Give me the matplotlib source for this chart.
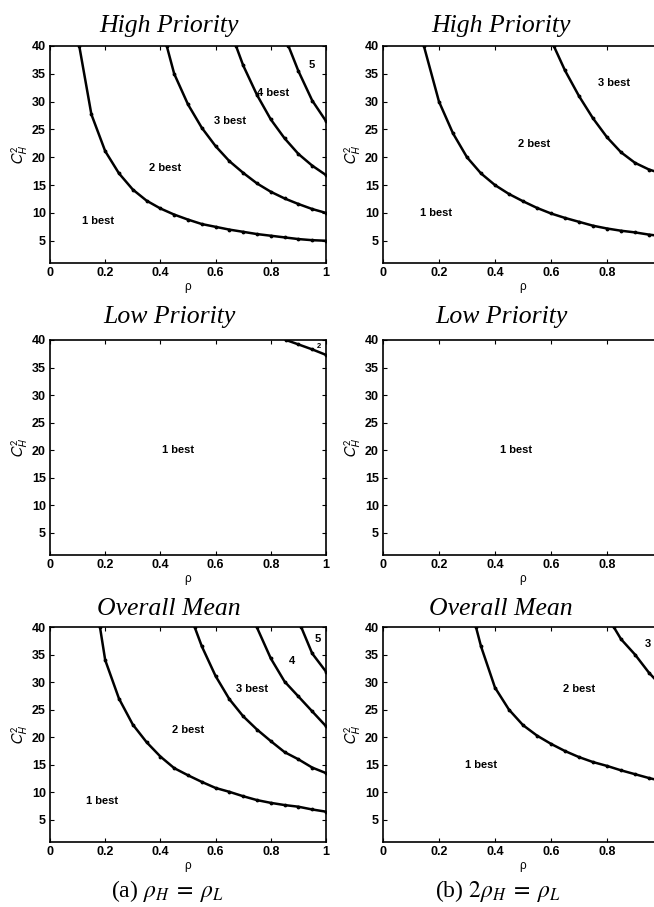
import matplotlib.pyplot as plt
import numpy as np

plt.rcParams['font.family'] = ['Liberation Sans', 'DejaVu Sans']
plt.rcParams['mathtext.fontset'] = 'stix'

# ---- boundary curves (rho, C_H^2) ----
# (a) rho_H = rho_L, high priority
hp_a_rho1 = [0.106, 0.15, 0.2, 0.25, 0.3, 0.35, 0.4, 0.45, 0.5, 0.55, 0.6, 0.65, 0.7, 0.75, 0.8, 0.85, 0.9, 0.95, 1.0]
hp_a_c1 = [40, 27.7, 21.1, 17.1, 14.2, 12.2, 10.8, 9.7, 8.8, 8.0, 7.5, 7.0, 6.6, 6.2, 5.9, 5.6, 5.3, 5.1, 5.0]
hp_a_rho2 = [0.423, 0.45, 0.5, 0.55, 0.6, 0.65, 0.7, 0.75, 0.8, 0.85, 0.9, 0.95, 1.0]
hp_a_c2 = [40, 35, 29.5, 25.3, 22, 19.3, 17.2, 15.3, 13.8, 12.6, 11.6, 10.7, 10.0]
hp_a_rho3 = [0.674, 0.7, 0.75, 0.8, 0.85, 0.9, 0.95, 1.0]
hp_a_c3 = [40, 36.5, 31.2, 26.8, 23.4, 20.6, 18.5, 16.8]
hp_a_rho4 = [0.864, 0.9, 0.95, 1.0]
hp_a_c4 = [40, 35.5, 30.2, 26.5]

# (b) 2 rho_H = rho_L, high priority
hp_b_rho1 = [0.146, 0.2, 0.25, 0.3, 0.35, 0.4, 0.45, 0.5, 0.55, 0.6, 0.65, 0.7, 0.75, 0.8, 0.85, 0.9, 0.95, 1.0]
hp_b_c1 = [40, 30, 24.3, 20, 17.1, 15, 13.4, 12.1, 10.9, 9.9, 9.1, 8.4, 7.7, 7.2, 6.8, 6.5, 6.1, 5.8]
hp_b_rho2 = [0.61, 0.65, 0.7, 0.75, 0.8, 0.85, 0.9, 0.95, 1.0]
hp_b_c2 = [40, 35.6, 31, 27, 23.6, 20.9, 19, 17.8, 17]

# low priority
lp_a_rho1 = [0.855, 0.9, 0.95, 1.0]
lp_a_c1 = [40, 39.2, 38.3, 37.3]

# overall mean
om_a_rho1 = [0.181, 0.2, 0.25, 0.3, 0.35, 0.4, 0.45, 0.5, 0.55, 0.6, 0.65, 0.7, 0.75, 0.8, 0.85, 0.9, 0.95, 1.0]
om_a_c1 = [40, 34, 27, 22.3, 19.1, 16.5, 14.4, 13.1, 11.9, 10.8, 10.1, 9.3, 8.6, 8.1, 7.7, 7.4, 6.9, 6.5]
om_a_rho2 = [0.524, 0.55, 0.6, 0.65, 0.7, 0.75, 0.8, 0.85, 0.9, 0.95, 1.0]
om_a_c2 = [40, 36.5, 31.1, 26.9, 23.8, 21.4, 19.3, 17.3, 16.0, 14.5, 13.5]
om_a_rho3 = [0.749, 0.8, 0.85, 0.9, 0.95, 1.0]
om_a_c3 = [40, 34.3, 30.1, 27.4, 24.7, 22]
om_a_rho4 = [0.91, 0.95, 1.0]
om_a_c4 = [40, 35.2, 31.9]

om_b_rho1 = [0.332, 0.35, 0.4, 0.45, 0.5, 0.55, 0.6, 0.65, 0.7, 0.75, 0.8, 0.85, 0.9, 0.95, 1.0]
om_b_c1 = [40, 36.5, 29, 25, 22.2, 20.3, 18.8, 17.5, 16.4, 15.5, 14.8, 14.0, 13.3, 12.6, 12.0]
om_b_rho2 = [0.824, 0.85, 0.9, 0.95, 1.0]
om_b_c2 = [40, 37.8, 35, 31.7, 29]

# region labels: (text, rho, C_H^2, fontsize)
hp_a_labels = [('1 best', 0.175, 8.5, 8), ('2 best', 0.417, 18.1, 8), ('3 best', 0.652, 26.5, 8),
               ('4 best', 0.81, 31.5, 8), ('5', 0.95, 36.6, 8)]
hp_b_labels = [('1 best', 0.188, 9.9, 8), ('2 best', 0.538, 22.3, 8), ('3 best', 0.824, 33.4, 8)]
lp_a_labels = [('1 best', 0.465, 20.1, 8), ('2', 0.976, 38.8, 5.5)]
lp_b_labels = [('1 best', 0.476, 20, 8)]
om_a_labels = [('1 best', 0.189, 8.4, 8), ('2 best', 0.502, 21.4, 8), ('3 best', 0.731, 28.7, 8),
               ('4', 0.876, 33.8, 8), ('5', 0.97, 37.9, 8)]
om_b_labels = [('1 best', 0.352, 14.9, 8), ('2 best', 0.7, 28.8, 8), ('3', 0.945, 37, 8)]

titles = ['High Priority', 'Low Priority', 'Overall Mean']
captions = [r'(a) $\rho_H\;=\;\rho_L$', r'(b) $2\rho_H\;=\;\rho_L$']

panels = [
    [[(hp_a_rho1, hp_a_c1), (hp_a_rho2, hp_a_c2), (hp_a_rho3, hp_a_c3), (hp_a_rho4, hp_a_c4)], hp_a_labels],
    [[(hp_b_rho1, hp_b_c1), (hp_b_rho2, hp_b_c2)], hp_b_labels],
    [[(lp_a_rho1, lp_a_c1)], lp_a_labels],
    [[], lp_b_labels],
    [[(om_a_rho1, om_a_c1), (om_a_rho2, om_a_c2), (om_a_rho3, om_a_c3), (om_a_rho4, om_a_c4)], om_a_labels],
    [[(om_b_rho1, om_b_c1), (om_b_rho2, om_b_c2)], om_b_labels],
]

fig = plt.figure(figsize=(6.54, 9.07), dpi=100)

W, H = 654.0, 907.0
col_x = [(50, 276), (383, 280)]
row_y = [(46, 263), (340, 555), (627, 842)]
title_base = [32, 323, 615]     # title baselines, px from top
title_cx = [169, 501]           # title centres, px from left

for i, (curves, labels) in enumerate(panels):
    r, c = divmod(i, 2)
    x0, w = col_x[c]
    top, bot = row_y[r]
    ax = fig.add_axes([x0 / W, 1 - bot / H, w / W, (bot - top) / H])
    for rho, c2 in curves:
        ax.plot(rho, c2, color='black', lw=1.8, marker='.', ms=3.5)
    for txt, lx, ly, fs in labels:
        ax.text(lx, ly, txt, fontsize=fs, ha='center', va='center', weight='bold')
    ax.set_xlim(0, 1)
    ax.set_ylim(1, 40)
    ax.set_xticks([0, 0.2, 0.4, 0.6, 0.8, 1])
    if c == 0:
        ax.set_xticklabels(['0', '0.2', '0.4', '0.6', '0.8', '1'])
    else:
        ax.set_xticklabels(['0', '0.2', '0.4', '0.6', '0.8', ''])
    ax.set_yticks([5, 10, 15, 20, 25, 30, 35, 40])
    ax.tick_params(direction='in', top=True, right=True, length=3, width=0.8,
                   labelsize=9, pad=3)
    for lab in ax.get_xticklabels() + ax.get_yticklabels():
        lab.set_fontweight('bold')
    for s in ax.spines.values():
        s.set_linewidth(1.2)
    ax.set_xlabel('ρ', fontsize=8.5, labelpad=1)
    ax.set_ylabel(r'$\mathsf{C}_{\mathsf{H}}^{\mathsf{2}}$', fontsize=11, labelpad=1)
    fig.text(title_cx[c] / W, 1 - title_base[r] / H, titles[r], fontsize=18.5,
             family='Liberation Serif', style='italic', ha='center', va='baseline')

fig.text(167 / W, 1 - 897 / H, captions[0], fontsize=17,
         family='Liberation Serif', ha='center', va='baseline')
fig.text(498 / W, 1 - 897 / H, captions[1], fontsize=17,
         family='Liberation Serif', ha='center', va='baseline')

fig.savefig('out.png', dpi=100)
